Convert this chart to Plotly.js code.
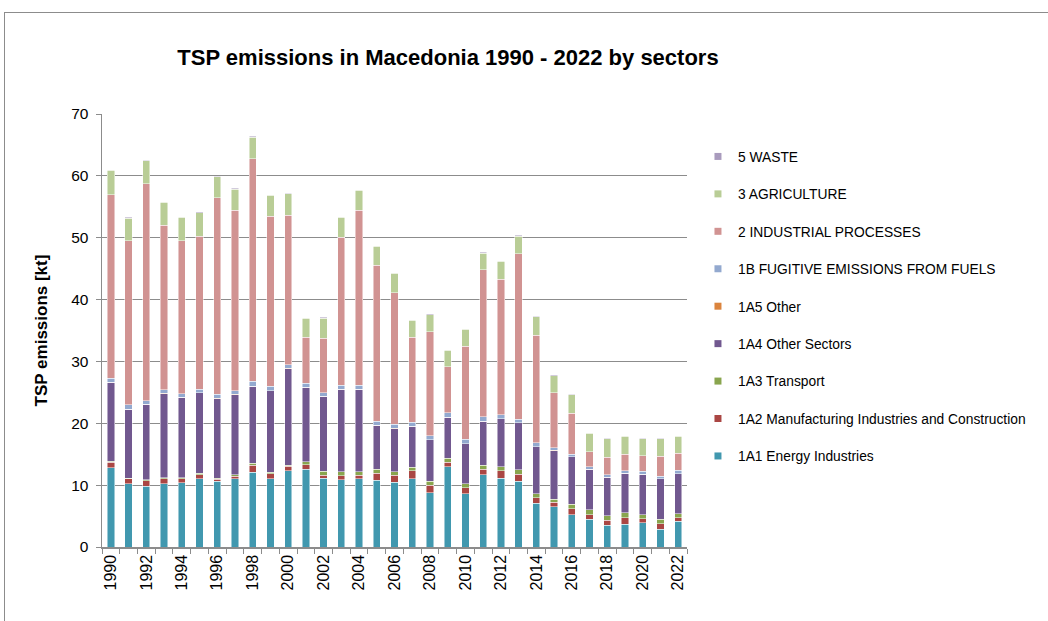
<!DOCTYPE html>
<html>
<head>
<meta charset="utf-8">
<script src="https://cdn.plot.ly/plotly-3.0.1.min.js"></script>
<style>
  html, body { margin:0; padding:0; background:#fff; }
  #wrap { position:relative; width:1048px; height:621px; overflow:hidden; }
  #frame { position:absolute; left:4px; top:12px; width:1100px; height:700px;
           border-left:1.5px solid #8c8c8c; border-top:1.5px solid #8c8c8c; pointer-events:none; }
  #chart { position:absolute; left:0; top:0; width:1048px; height:621px; }
</style>
</head>
<body>
<div id="wrap"><div id="chart"></div><div id="frame"></div></div>
<script>
const years = [1990,1991,1992,1993,1994,1995,1996,1997,1998,1999,2000,2001,2002,2003,2004,2005,2006,2007,2008,2009,2010,2011,2012,2013,2014,2015,2016,2017,2018,2019,2020,2021,2022];
const energy1A1 = [12.8,10.2,9.8,10.2,10.4,11.0,10.6,11.0,12.1,11.0,12.3,12.6,11.1,10.9,11.0,10.8,10.5,11.0,8.8,13.0,8.6,11.7,11.1,10.6,7.1,6.5,5.2,4.5,3.55,3.65,3.9,2.9,4.2];
const manuf1A2 = [0.9,0.8,0.9,0.8,0.6,0.7,0.35,0.45,1.1,0.85,0.75,0.7,0.5,0.65,0.6,1.1,1.1,1.3,1.2,0.7,1.0,0.85,1.2,1.15,0.9,0.75,1.0,0.75,0.75,1.1,0.7,0.85,0.5];
const transport1A3 = [0.2,0.15,0.15,0.2,0.2,0.2,0.15,0.2,0.3,0.2,0.2,0.5,0.65,0.65,0.6,0.65,0.55,0.6,0.6,0.65,0.6,0.7,0.7,0.7,0.6,0.45,0.75,0.8,0.75,0.75,0.65,0.7,0.7];
const other1A4 = [12.7,11.1,12.2,13.6,13.0,13.0,12.9,13.0,12.5,13.2,15.6,12.0,12.1,13.3,13.3,7.1,7.0,6.6,6.7,6.6,6.5,7.05,7.7,7.6,7.6,7.9,7.65,6.5,6.2,6.4,6.5,6.55,6.45];
const other1A5 = [0.02,0.02,0.02,0.02,0.02,0.02,0.02,0.02,0.02,0.02,0.02,0.02,0.02,0.02,0.02,0.02,0.02,0.02,0.02,0.02,0.02,0.02,0.02,0.02,0.02,0.02,0.02,0.02,0.02,0.02,0.02,0.02,0.02];
const fugitive1B = [0.7,0.7,0.55,0.6,0.55,0.55,0.65,0.6,0.75,0.7,0.6,0.65,0.55,0.65,0.65,0.65,0.65,0.65,0.65,0.7,0.7,0.7,0.65,0.6,0.6,0.4,0.4,0.4,0.45,0.4,0.45,0.45,0.5];
const industrial2 = [29.6,26.5,35.1,26.6,24.7,24.8,31.8,29.2,36.0,27.5,24.2,7.4,8.8,23.9,28.3,25.2,21.3,13.7,16.8,7.5,15.0,23.8,21.9,26.7,17.4,8.9,6.6,2.4,2.8,2.7,2.5,3.2,2.8];
const agriculture3 = [4.0,3.7,3.7,3.7,3.8,3.8,3.4,3.4,3.5,3.4,3.4,3.1,3.3,3.2,3.2,3.1,3.1,2.8,2.8,2.6,2.8,2.7,2.9,2.9,3.0,2.8,3.0,3.0,2.95,2.85,2.8,2.8,2.75];
const waste5 = [0.1,0.1,0.1,0.1,0.1,0.1,0.1,0.1,0.1,0.1,0.1,0.1,0.1,0.1,0.1,0.1,0.1,0.1,0.1,0.1,0.1,0.1,0.1,0.1,0.1,0.1,0.1,0.1,0.1,0.1,0.1,0.1,0.1];

const seriesNames = ["1A1 Energy Industries","1A2 Manufacturing Industries and Construction","1A3 Transport","1A4 Other Sectors","1A5 Other","1B FUGITIVE EMISSIONS FROM FUELS","2 INDUSTRIAL PROCESSES","3 AGRICULTURE","5 WASTE"];
const seriesValues = [energy1A1, manuf1A2, transport1A3, other1A4, other1A5, fugitive1B, industrial2, agriculture3, waste5];
const seriesColors = ["#4198AF","#AA4643","#89A54E","#71588F","#DB843D","#93A9CF","#D19392","#B9CD96","#A99BBD"];
const labelYears = [1990,1992,1994,1996,1998,2000,2002,2004,2006,2008,2010,2012,2014,2016,2018,2020,2022];

const FONT = "Arial, 'Liberation Sans', sans-serif";
const traces = [];
seriesValues.forEach((vals, i) => {
  traces.push({
    type: "bar", x: years, y: vals, name: seriesNames[i], showlegend: false,
    marker: { color: seriesColors[i], line: { color: "rgba(255,255,255,0.8)", width: 0.6 } },
    hoverinfo: "x+y+name"
  });
});
// legend entries, top to bottom: last series first
for (let i = seriesValues.length - 1; i >= 0; i--) {
  traces.push({
    type: "scatter", mode: "markers", x: [null], y: [null], name: seriesNames[i],
    legendgroup: "g" + i,
    marker: { symbol: "square", size: 7, color: seriesColors[i] }
  });
}

const boundaries = years.map(y => y - 0.5).concat([years[years.length - 1] + 0.5]);

const layout = {
  width: 1048, height: 621,
  margin: { l: 102, r: 361, t: 114, b: 74 },
  paper_bgcolor: "rgba(0,0,0,0)", plot_bgcolor: "rgba(0,0,0,0)",
  barmode: "stack", bargap: 0.59,
  font: { family: FONT, size: 13, color: "#000" },
  title: {
    text: "<b>TSP emissions in Macedonia 1990 - 2022 by sectors</b>",
    font: { family: FONT, size: 22, color: "#000" },
    x: 0.4275, xanchor: "center", xref: "container",
    y: 0.908, yanchor: "middle", yref: "container"
  },
  xaxis: {
    range: [1989.5, 2022.5], tickvals: labelYears, ticktext: labelYears.map(String),
    tickangle: -90, ticks: "", showgrid: false, zeroline: false,
    showline: true, linecolor: "#8c8c8c", linewidth: 1.5,
    tickfont: { family: FONT, size: 16, color: "#000" },
    minor: { tickvals: boundaries, ticks: "outside", ticklen: 5, tickcolor: "#8c8c8c", tickwidth: 1, showgrid: false }
  },
  yaxis: {
    range: [0, 70], dtick: 10, tick0: 0,
    showgrid: true, gridcolor: "#8c8c8c", gridwidth: 1.2,
    zeroline: false, showline: true, linecolor: "#8c8c8c", linewidth: 1.5,
    ticks: "outside", ticklen: 5, tickcolor: "#8c8c8c", ticklabelstandoff: 4,
    tickfont: { family: FONT, size: 15.5, color: "#000" },
    title: { text: "<b>TSP emissions [kt]</b>", font: { family: FONT, size: 17, color: "#000" }, standoff: 19 }
  },
  legend: {
    x: 0.666, xref: "container", xanchor: "left",
    y: 0.773, yref: "container", yanchor: "top",
    traceorder: "grouped", tracegroupgap: 16.5, maxheight: 1,
    font: { family: FONT, size: 13.8, color: "#000" },
    bgcolor: "rgba(0,0,0,0)"
  },
  showlegend: true
};

Plotly.newPlot("chart", traces, layout, { displayModeBar: false, staticPlot: true });
</script>
</body>
</html>
